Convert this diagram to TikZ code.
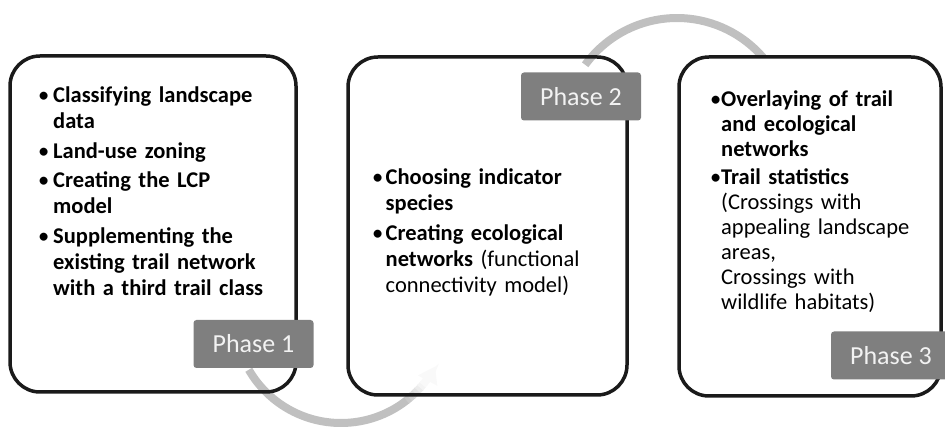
\documentclass[tikz,border=0pt]{standalone}
\usepackage{fontspec}
\setmainfont{Carlito}
\usetikzlibrary{arrows.meta,calc}

\definecolor{frame}{HTML}{1A1A1A}
\definecolor{arcgray}{HTML}{C0C0C0}
\definecolor{tabfill}{HTML}{7F7F7F}
\definecolor{tabtext}{HTML}{F2F2F2}

% bulleted entries with a hanging indent; \bfirst opens the list
\newlength\bhang
\newcommand\bmark{\makebox[\bhang][l]{\textbullet}}
\newcommand\bfirst[1]{\hangindent=\bhang\hangafter=1\noindent\bmark#1}
\newcommand\bitem[1]{\par\hangindent=\bhang\hangafter=1\noindent\bmark#1}
% font size, line pitch, gap between entries, bullet indent
\newcommand\listsetup[4]{\fontsize{#1}{#2}\selectfont\raggedright
  \setlength{\parskip}{#3}\setlength{\bhang}{#4}}

\tikzset{
  phasebox/.style={draw=frame, line width=3.5pt, rounded corners=30pt},
  phasetab/.style={fill=tabfill, rounded corners=3pt, text=tabtext,
    minimum width=120pt, minimum height=48pt, inner sep=0pt,
    font=\fontsize{26}{30}\selectfont},
  boxtext/.style={anchor=base west, inner sep=0pt,
    font=\fontsize{22.5}{26}\selectfont},
  cyclearc/.style={draw=arcgray, line width=8pt},
}

\begin{document}
\begin{tikzpicture}[x=1pt, y=-1pt]
\useasboundingbox (0,0) rectangle (945,427);

% arc from phase 1 to phase 2, fading out towards its head
\coordinate (p1out) at (248.8,369.75);
\draw[cyclearc] (p1out) arc[start angle=150, end angle=51.7, radius=106.5];
\foreach \a/\c in {52/85,50/72,48/58,46/44,44/30,42/18}{
  \draw[draw=arcgray!\c!white, line width=8pt]
    ($(341,316.5)+(\a:106.5)$) arc[start angle=\a, end angle=\a-2.3, radius=106.5];
}
\draw[draw=arcgray!10!white, line width=8pt, -{Triangle[length=16pt,width=21pt]}]
  ($(341,316.5)+(40:106.5)$) coordinate (p2in)
  arc[start angle=40, end angle=28, radius=106.5];

% arc from phase 2 to phase 3
\coordinate (p2out) at (585.2,64.8);
\draw[cyclearc] (p2out) arc[start angle=216, end angle=322, radius=113.5];

% the three phase boxes
\draw[phasebox] (10,56) rectangle (296,392);
\draw[phasebox] (348,57) rectangle (627,395);
\draw[phasebox, fill=white] (679,57) rectangle (941,396);

% box contents
\node[boxtext, text width=258pt] (t1) at (38,103) {\listsetup{22.5}{26}{3.5pt}{15pt}%
  \bfirst{\textbf{Classifying landscape\newline data}}
  \bitem{\textbf{Land-use zoning}}
  \bitem{\textbf{Creating the LCP\newline model}}
  \bitem{\textbf{Supplementing the\newline existing trail network\newline with a third trail class}}\par};

\node[boxtext, text width=252pt] (t2) at (372,185) {\listsetup{22.5}{26}{3.5pt}{13.5pt}%
  \bfirst{\textbf{Choosing indicator\newline species}}
  \bitem{\textbf{Creating ecological\newline networks} (functional\newline connectivity model)}\par};

\node[boxtext, text width=230pt] (t3) at (710,107) {\listsetup{22.5}{25}{3pt}{11pt}%
  \bfirst{\textbf{Overlaying of trail\newline and ecological\newline networks}}
  \bitem{\textbf{Trail statistics}\newline (Crossings with\newline appealing landscape\newline areas,\newline Crossings with\newline wildlife habitats)}\par};

% phase tabs
\node[phasetab] (ph1) at (253.5,344) {Phase 1};
\node[phasetab] (ph2) at (581,96.5) {Phase 2};
\node[phasetab] (ph3) at (891,355.5) {Phase 3};
\end{tikzpicture}
\end{document}
